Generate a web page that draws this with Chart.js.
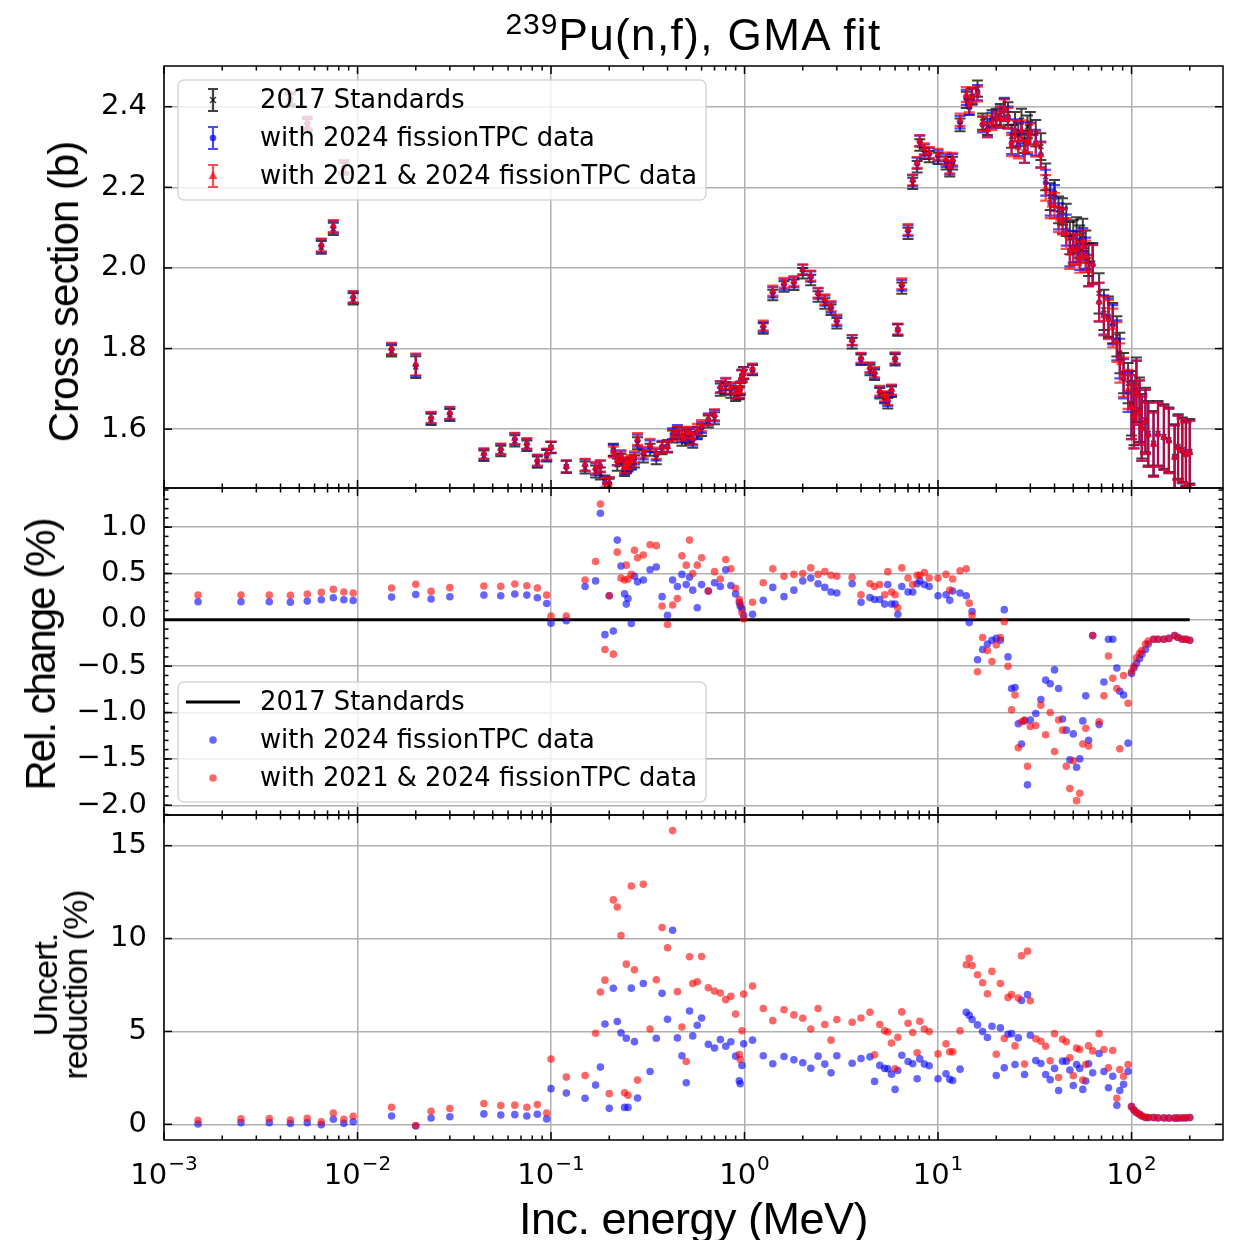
<!DOCTYPE html>
<html>
<head>
<meta charset="utf-8">
<script src="https://cdn.jsdelivr.net/npm/chart.js@4.4.1/dist/chart.umd.min.js"></script>
<style>
html,body{margin:0;padding:0;background:#fff;}
#wrap{position:relative;width:1234px;height:1240px;overflow:hidden;background:#fff;}
canvas{position:absolute;left:0;top:0;}
.lbl{position:absolute;font-family:"Liberation Sans",Arial,sans-serif;color:#000;white-space:nowrap;line-height:1;}
.rot{transform:translate(-50%,-50%) rotate(-90deg);text-align:center;}
</style>
</head>
<body>
<div id="wrap">
<canvas id="c1" width="1234" height="1240"></canvas>
<canvas id="c2" width="1234" height="1240"></canvas>
<canvas id="c3" width="1234" height="1240"></canvas>
<div class="lbl" id="title" style="left:164px;width:1059px;top:13px;text-align:center;font-size:44px;letter-spacing:1.4px;"><span style="font-size:30px;position:relative;top:-16px;letter-spacing:1px;">239</span>Pu(n,f), GMA fit</div>
<div class="lbl rot" style="left:64px;top:292px;font-size:42px;letter-spacing:-1px;">Cross section (b)</div>
<div class="lbl rot" style="left:41px;top:655px;font-size:42px;letter-spacing:-2px;">Rel. change (%)</div>
<div class="lbl rot" style="left:60px;top:985px;font-size:34px;letter-spacing:-1px;line-height:30px;">Uncert.<br>reduction (%)</div>
<div class="lbl" style="left:164px;width:1059px;top:1196px;text-align:center;font-size:45px;letter-spacing:-0.5px;">Inc. energy (MeV)</div>
</div>
<script>
// ---------------- DATA ----------------
const energies = [
  0.0015,0.0025,0.0035,0.0045,0.0055,0.0065,0.0075,0.0085,0.0095,0.015,0.02,0.024,0.03,0.045,0.055,0.065,0.075,0.085,0.095,0.1,
  0.12,0.15,0.17,0.18,0.19,0.2,0.21,0.22,0.23,0.24,0.245,0.25,0.26,0.27,0.28,0.3,0.325,0.35,0.375,0.4,
  0.425,0.45,0.475,0.5,0.52,0.54,0.57,0.6,0.65,0.7,0.75,0.8,0.85,0.9,0.94,0.95,0.97,0.99,1.1,1.25,
  1.4,1.6,1.8,2.0,2.2,2.4,2.6,2.8,3.0,3.6,4.0,4.45,4.7,5.0,5.3,5.5,5.75,6.0,6.2,6.5,7.0,7.4,7.8,8.05,8.5,9.0,10.0,
  11,11.5,11.9,13,14,14.5,15,16,17,18,19,20,21,22,23,24,25,26,27,28,29,30,32,34,36,38,40,42,44,46,48,50,
  52,54,56,58,60,63,68,72,76,80,84,87,91,96,100,103,106,110,113,118,122,130,137,147,156,167,174,183,191,200
];
const xs2017 = [
  3.2,2.9,2.65,2.415,2.354,2.051,2.097,2.246,1.923,1.794,1.754,1.624,1.635,1.534,1.546,1.571,1.559,1.518,1.534,1.555,
  1.507,1.505,1.495,1.490,1.470,1.462,1.549,1.512,1.524,1.499,1.505,1.510,1.515,1.520,1.565,1.532,1.549,1.528,1.553,1.557,
  1.582,1.590,1.574,1.582,1.578,1.569,1.590,1.598,1.619,1.627,1.698,1.702,1.693,1.685,1.689,1.700,1.731,1.739,1.747,1.850,
  1.933,1.954,1.958,1.987,1.970,1.929,1.912,1.896,1.863,1.813,1.772,1.747,1.735,1.689,1.677,1.664,1.693,1.772,1.846,1.950,2.086,2.210,2.251,2.305,2.284,2.276,2.272,
  2.260,2.243,2.260,2.355,2.417,2.400,2.425,2.445,2.363,2.350,2.371,2.375,2.379,2.392,2.383,2.326,2.359,2.330,2.367,2.313,2.350,2.359,2.334,2.301,2.226,2.177,2.185,2.144,2.140,2.119,2.074,2.078,
  2.086,2.065,2.082,2.053,2.020,2.012,1.937,1.896,1.879,1.863,1.830,1.789,1.739,1.714,1.664,1.640,1.698,1.648,1.607,1.623,1.590,1.565,1.590,1.582,1.574,1.532,1.557,1.549,1.540,1.545
];
const err2017 = [
  0.015,0.015,0.015,0.015,0.015,0.016,0.015,0.015,0.014,0.014,0.027,0.014,0.015,0.013,0.013,0.014,0.013,0.014,0.014,0.014,
  0.015,0.015,0.015,0.015,0.015,0.015,0.015,0.015,0.015,0.015,0.015,0.015,0.015,0.015,0.015,0.015,0.015,0.015,0.015,0.015,
  0.015,0.015,0.015,0.015,0.015,0.015,0.015,0.015,0.015,0.015,0.015,0.015,0.015,0.015,0.015,0.015,0.015,0.015,0.013,0.013,
  0.013,0.013,0.013,0.013,0.013,0.013,0.013,0.013,0.013,0.013,0.013,0.013,0.013,0.013,0.013,0.013,0.013,0.014,0.014,0.014,0.014,0.014,0.014,0.014,0.014,0.014,0.014,
  0.016,0.016,0.016,0.016,0.02,0.02,0.02,0.02,0.02,0.02,0.02,0.02,0.028,0.028,0.028,0.028,0.028,0.028,0.028,0.028,0.028,0.028,0.033,0.033,0.033,0.033,0.033,0.033,0.033,0.04,0.04,0.04,
  0.04,0.04,0.04,0.04,0.04,0.05,0.05,0.05,0.05,0.05,0.05,0.05,0.05,0.05,0.08,0.08,0.08,0.08,0.08,0.08,0.08,0.08,0.08,0.08,0.08,0.08,0.08,0.08,0.08,0.08
];
const relChange2024 = [
  0.195,0.195,0.195,0.191,0.202,0.217,0.238,0.217,0.209,0.245,0.274,0.224,0.249,0.267,0.260,0.278,0.267,0.238,0.177,-0.036,
  -0.01,0.36,0.42,1.15,-0.16,0.26,-0.12,0.86,0.58,0.28,0.17,0.23,-0.04,0.47,0.41,0.43,0.54,0.57,0.25,0.05,
  0.43,0.36,0.49,0.38,0.46,0.32,0.13,0.38,0.31,0.40,0.36,0.54,0.37,0.28,0.19,0.15,0.12,0.05,0.06,0.21,
  0.35,0.25,0.32,0.42,0.45,0.39,0.35,0.30,0.29,0.39,0.19,0.24,0.22,0.22,0.17,0.38,0.17,0.17,0.06,0.36,0.30,0.30,0.39,0.42,0.38,0.36,0.26,
  0.27,0.21,0.31,0.29,0.26,-0.03,0.09,-0.43,-0.32,-0.26,-0.22,-0.20,-0.22,0.11,-0.40,-0.74,-0.73,-1.12,-1.34,-1.09,-1.78,-1.08,-1.01,-0.86,-0.65,-0.69,-0.54,-0.74,-1.07,-1.19,-1.51,-1.23,
  -1.59,-1.50,-1.09,-0.82,-1.30,-0.17,-1.13,-0.67,-0.21,-0.21,-0.52,-0.77,-0.81,-1.33,-0.58,-0.52,-0.47,-0.42,-0.37,-0.32,-0.26,-0.21,-0.21,-0.21,-0.20,-0.17,-0.19,-0.21,-0.21,-0.22
];
const relChange2021_2024 = [
  0.267,0.267,0.267,0.264,0.278,0.296,0.329,0.300,0.289,0.343,0.383,0.307,0.347,0.365,0.361,0.386,0.368,0.343,0.267,0.040,
  0.04,0.43,0.63,1.25,-0.32,0.26,-0.37,0.73,0.45,0.43,0.59,0.44,0.49,0.75,0.67,0.70,0.81,0.80,0.15,-0.05,
  0.16,0.23,0.69,0.59,0.86,0.50,0.59,0.67,0.31,0.52,0.44,0.65,0.55,0.34,0.22,0.17,0.08,0.01,0.19,0.40,
  0.55,0.47,0.49,0.50,0.56,0.49,0.52,0.48,0.47,0.46,0.27,0.39,0.36,0.38,0.27,0.52,0.30,0.27,0.13,0.56,0.45,0.38,0.48,0.48,0.51,0.45,0.45,
  0.49,0.32,0.44,0.53,0.55,0.18,0.05,-0.56,-0.19,-0.33,-0.45,-0.27,-0.19,-0.02,-0.50,-0.97,-0.81,-1.38,-1.10,-1.08,-1.58,-1.15,-1.14,-0.92,-1.24,-1.00,-1.42,-1.08,-1.19,-1.58,-1.82,-1.52,
  -1.95,-1.87,-1.34,-1.17,-1.36,-0.17,-1.10,-0.82,-0.39,-0.63,-0.74,-1.39,-0.60,-0.90,-0.56,-0.50,-0.41,-0.36,-0.33,-0.26,-0.23,-0.21,-0.21,-0.21,-0.20,-0.17,-0.19,-0.21,-0.21,-0.22
];
const uncRed2024 = [
  0.02,0.09,0.09,0.04,0.09,-0.02,0.27,0.05,0.14,0.45,-0.09,0.34,0.41,0.56,0.50,0.52,0.45,0.54,0.29,1.92,
  1.68,1.40,2.11,3.08,5.40,0.86,7.32,5.53,4.92,0.91,4.63,0.91,7.33,4.45,1.41,7.58,2.84,4.63,7.05,5.65,
  10.45,4.65,3.69,2.24,6.10,4.76,5.33,5.72,4.31,4.11,4.56,4.20,4.44,3.67,2.34,2.18,3.17,4.33,4.53,3.69,
  3.26,3.65,3.47,3.31,3.02,3.67,3.24,2.77,3.69,3.29,3.54,3.63,2.31,3.17,3.01,2.99,2.70,1.88,2.90,3.72,3.38,3.26,2.45,3.52,3.24,3.15,2.45,
  2.72,2.42,2.36,2.97,6.03,5.87,5.64,5.35,4.99,4.67,5.28,2.63,5.19,3.04,4.85,4.88,3.22,4.65,6.67,2.68,6.98,4.79,3.43,3.27,2.68,2.40,3.01,1.82,3.40,3.40,2.92,2.09,
  3.22,3.01,1.88,2.33,3.26,2.77,3.81,2.84,1.97,2.59,1.02,1.82,2.16,2.84,0.95,0.77,0.63,0.54,0.45,0.36,0.36,0.36,0.34,0.34,0.33,0.33,0.33,0.34,0.34,0.36
];
const uncRed2021_2024 = [
  0.22,0.29,0.31,0.23,0.32,0.14,0.61,0.27,0.43,0.92,-0.07,0.70,0.85,1.12,1.01,1.03,0.92,1.06,0.61,3.51,
  2.54,2.63,4.90,7.12,7.76,1.65,12.08,11.70,10.16,1.70,8.62,1.56,12.83,8.32,2.38,12.92,5.13,7.78,10.59,9.50,
  15.81,7.14,5.24,3.38,9.02,7.58,7.67,9.03,7.35,7.17,7.07,6.71,6.89,5.94,3.76,3.49,5.03,7.01,7.44,6.23,
  5.58,6.17,5.89,5.71,5.13,6.23,5.37,4.53,5.64,5.49,5.72,6.03,3.74,5.37,5.04,4.97,4.38,2.99,4.69,6.05,5.44,4.94,3.85,5.55,5.13,4.99,3.79,
  4.33,3.90,3.90,5.03,8.59,8.94,8.55,8.05,7.62,7.03,8.23,3.77,7.58,4.62,6.83,6.98,4.22,6.80,9.07,3.24,9.32,6.65,4.60,4.47,4.20,3.42,4.88,2.52,4.58,4.44,3.58,2.61,
  4.10,4.03,2.38,3.22,4.22,3.95,4.88,4.03,3.04,3.97,1.40,2.95,2.59,3.22,0.95,0.77,0.63,0.54,0.45,0.38,0.37,0.37,0.35,0.35,0.34,0.34,0.34,0.35,0.35,0.37
];
const stdLineRange = [1e-4, 200];          // energy span of the 2017 Standards reference line (MeV)
const xTicks = [1e-3, 1e-2, 1e-1, 1, 10, 100];
const xTickBase = '10';
const xTickExponents = ['\u22123', '\u22122', '\u22121', '0', '1', '2'];
const yTicksXS = [1.6, 1.8, 2.0, 2.2, 2.4];
const yTicksRel = [-2.0, -1.5, -1.0, -0.5, 0.0, 0.5, 1.0];
const yTicksUnc = [0, 5, 10, 15];
const seriesNames = ['2017 Standards', 'with 2024 fissionTPC data', 'with 2021 & 2024 fissionTPC data'];

// ---------------- STYLE ----------------
const BLACK = 'rgba(0,0,0,0.75)';
const BLUE = 'rgba(0,0,255,0.7)';
const RED = 'rgba(255,0,0,0.7)';
const BLUE_DOT = 'rgba(0,0,255,0.6)';
const RED_DOT = 'rgba(255,0,0,0.6)';
const AREA_L = 164, AREA_R = 1223, H = 1240;
const TICK_FONT = {family: 'DejaVu Sans', size: 29};

const pts = (ys) => energies.map((e, i) => ({x: e, y: ys[i]}));
const xsWith = (rel) => xs2017.map((v, i) => v * (1 + rel[i] / 100));
const errWith = (unc) => err2017.map((v, i) => v * (1 - unc[i] / 100));

const errorBarPlugin = {
  id: 'errbars',
  beforeDatasetDraw(chart, args) {
    const ds = chart.data.datasets[args.index];
    if (!ds.errors) return;
    const {ctx, chartArea: a, scales: {x, y}} = chart;
    ctx.save();
    ctx.beginPath(); ctx.rect(a.left, a.top, a.right - a.left, a.bottom - a.top); ctx.clip();
    ctx.strokeStyle = ds.borderColor; ctx.lineWidth = ds.errWidth || 2.2;
    ds.data.forEach((p, i) => {
      const px = x.getPixelForValue(p.x);
      const y1 = y.getPixelForValue(p.y - ds.errors[i]);
      const y2 = y.getPixelForValue(p.y + ds.errors[i]);
      ctx.beginPath();
      ctx.moveTo(px, y1); ctx.lineTo(px, y2);
      ctx.moveTo(px - 5.5, y1); ctx.lineTo(px + 5.5, y1);
      ctx.moveTo(px - 5.5, y2); ctx.lineTo(px + 5.5, y2);
      ctx.stroke();
    });
    ctx.restore();
  }
};

function drawMarker(ctx, style, x, y, color) {
  ctx.save();
  ctx.fillStyle = color; ctx.strokeStyle = color; ctx.lineWidth = 1.5;
  ctx.beginPath();
  if (style === 'crossRot') {
    ctx.moveTo(x - 3, y - 3); ctx.lineTo(x + 3, y + 3);
    ctx.moveTo(x - 3, y + 3); ctx.lineTo(x + 3, y - 3); ctx.stroke();
  } else if (style === 'triangle') {
    ctx.moveTo(x, y - 5); ctx.lineTo(x + 4.5, y + 3); ctx.lineTo(x - 4.5, y + 3); ctx.closePath(); ctx.fill();
  } else {
    ctx.arc(x, y, style === 'dot' ? 3.8 : 3.3, 0, Math.PI * 2); ctx.fill();
  }
  ctx.restore();
}

const decoPlugin = {
  id: 'deco',
  afterDatasetsDraw(chart, args, opts) {
    const {ctx, chartArea: a, scales: {x, y}} = chart;
    ctx.save();
    ctx.strokeStyle = '#000'; ctx.lineWidth = 1.5;
    const seg = (x1, y1, x2, y2) => { ctx.beginPath(); ctx.moveTo(x1, y1); ctx.lineTo(x2, y2); ctx.stroke(); };
    for (let d = -3; d <= 2; d++) {
      for (let m = 1; m <= 9; m++) {
        const v = m * Math.pow(10, d);
        if (v < x.min || v > x.max) continue;
        const px = x.getPixelForValue(v), len = m === 1 ? 8 : 4.5;
        seg(px, a.top, px, a.top + len);
        seg(px, a.bottom, px, a.bottom - len);
      }
    }
    opts.yTicks.forEach(v => {
      const py = y.getPixelForValue(v);
      seg(a.left, py, a.left + 8, py); seg(a.right, py, a.right - 8, py);
    });
    if (opts.yMinorStep) {
      for (let v = Math.ceil(y.min / opts.yMinorStep) * opts.yMinorStep; v <= y.max; v += opts.yMinorStep) {
        const py = y.getPixelForValue(v);
        seg(a.left, py, a.left + 4.5, py); seg(a.right, py, a.right - 4.5, py);
      }
    }
    ctx.strokeRect(a.left, a.top, a.right - a.left, a.bottom - a.top);
    // x tick labels with superscript exponents (bottom panel only)
    if (opts.xLabels) {
      ctx.fillStyle = '#000'; ctx.textBaseline = 'alphabetic'; ctx.textAlign = 'left';
      xTicks.forEach((v, i) => {
        const px = x.getPixelForValue(v);
        ctx.font = '29px "DejaVu Sans"';
        const wb = ctx.measureText(xTickBase).width;
        ctx.font = '20px "DejaVu Sans"';
        const we = ctx.measureText(xTickExponents[i]).width;
        const x0 = px - (wb + we + 1) / 2;
        ctx.font = '29px "DejaVu Sans"';
        ctx.fillText(xTickBase, x0, a.bottom + 44);
        ctx.font = '20px "DejaVu Sans"';
        ctx.fillText(xTickExponents[i], x0 + wb + 1, a.bottom + 30);
      });
    }
    ctx.restore();
  },
  afterDraw(chart, args, opts) {
    const L = opts.legend;
    if (!L) return;
    const {ctx, chartArea: a} = chart;
    const bx = a.left + 14, bw = 528, bh = 120;
    const by = L.fromBottom ? a.bottom - L.offset - bh : a.top + L.offset;
    ctx.save();
    ctx.beginPath();
    ctx.roundRect(bx, by, bw, bh, 6);
    ctx.fillStyle = 'rgba(255,255,255,0.8)'; ctx.fill();
    ctx.strokeStyle = 'rgba(204,204,204,0.8)'; ctx.lineWidth = 1.5; ctx.stroke();
    ctx.font = '25.8px "DejaVu Sans"'; ctx.textBaseline = 'middle'; ctx.fillStyle = '#000';
    L.items.forEach((it, i) => {
      const cy = by + 20 + i * 38, ix = bx + 35;
      if (it.kind === 'err') {
        ctx.strokeStyle = it.color; ctx.lineWidth = 2.2;
        ctx.beginPath();
        ctx.moveTo(ix, cy - 11); ctx.lineTo(ix, cy + 11);
        ctx.moveTo(ix - 5, cy - 11); ctx.lineTo(ix + 5, cy - 11);
        ctx.moveTo(ix - 5, cy + 11); ctx.lineTo(ix + 5, cy + 11);
        ctx.stroke();
        drawMarker(ctx, it.marker, ix, cy, it.color);
      } else if (it.kind === 'line') {
        ctx.strokeStyle = it.color; ctx.lineWidth = 3;
        ctx.beginPath(); ctx.moveTo(bx + 8, cy); ctx.lineTo(bx + 62, cy); ctx.stroke();
      } else {
        drawMarker(ctx, 'dot', ix, cy, it.color);
      }
      ctx.fillStyle = '#000';
      ctx.fillText(it.text, bx + 82, cy + 1);
    });
    ctx.restore();
  }
};

function makePanel(id, top, bottom, yMin, yMax, yTicks, yMinorStep, yFmt, datasets, legend, showX) {
  return new Chart(document.getElementById(id), {
    type: 'scatter',
    data: {datasets},
    options: {
      responsive: false, animation: false, devicePixelRatio: 1,
      layout: {padding: {top: top, bottom: showX ? 0 : H - bottom, left: 0, right: 1234 - AREA_R}},
      plugins: {
        legend: {display: false}, tooltip: {enabled: false}, title: {display: false},
        deco: {yTicks, yMinorStep, legend, xLabels: showX}
      },
      scales: {
        x: {
          type: 'logarithmic', min: 1e-3, max: 297,
          afterBuildTicks: s => { s.ticks = xTicks.map(v => ({value: v})); },
          afterFit: s => { s.height = showX ? H - bottom : 0; },
          grid: {color: '#b0b0b0', lineWidth: 1.5, drawTicks: false},
          border: {display: false},
          ticks: {display: false}
        },
        y: {
          min: yMin, max: yMax,
          afterBuildTicks: s => { s.ticks = yTicks.map(v => ({value: v})); },
          afterFit: s => { s.width = AREA_L; },
          grid: {color: '#b0b0b0', lineWidth: 1.5, drawTicks: false},
          border: {display: false},
          ticks: {padding: 17, font: TICK_FONT, color: '#000', autoSkip: false, callback: v => yFmt(v)}
        }
      }
    },
    plugins: [errorBarPlugin, decoPlugin]
  });
}

const fmt1 = v => (v < 0 ? '\u2212' : '') + Math.abs(v).toFixed(1);
const fmt0 = v => String(v);

// Panel 1: cross sections with uncertainties (lower "order" is drawn on top)
makePanel('c1', 66, 488, 1.454, 2.501, yTicksXS, 0, fmt1, [
  {label: seriesNames[0], order: 3, data: pts(xs2017), errors: err2017, errWidth: 2, pointStyle: 'crossRot', pointRadius: 3.5,
   borderColor: BLACK, backgroundColor: BLACK, borderWidth: 1.5},
  {label: seriesNames[1], order: 2, data: pts(xsWith(relChange2024)), errors: errWith(uncRed2024), pointStyle: 'circle', pointRadius: 3,
   borderColor: BLUE, backgroundColor: BLUE, borderWidth: 0},
  {label: seriesNames[2], order: 1, data: pts(xsWith(relChange2021_2024)), errors: errWith(uncRed2021_2024), errWidth: 2.2, pointStyle: 'triangle', pointRadius: 4.5,
   borderColor: RED, backgroundColor: RED, borderWidth: 0}
], {fromBottom: false, offset: 14, items: [
  {kind: 'err', color: BLACK, marker: 'crossRot', text: seriesNames[0]},
  {kind: 'err', color: BLUE, marker: 'circle', text: seriesNames[1]},
  {kind: 'err', color: RED, marker: 'triangle', text: seriesNames[2]}
]}, false);

// Panel 2: relative change
makePanel('c2', 488, 815, -2.105, 1.422, yTicksRel, 0.1, fmt1, [
  {label: seriesNames[0], order: 3, type: 'line', data: stdLineRange.map(e => ({x: e, y: 0})), borderColor: '#000', borderWidth: 3,
   pointRadius: 0, showLine: true, fill: false},
  {label: seriesNames[1], order: 2, data: pts(relChange2024), pointStyle: 'circle', pointRadius: 3.8,
   borderColor: BLUE_DOT, backgroundColor: BLUE_DOT, borderWidth: 0},
  {label: seriesNames[2], order: 1, data: pts(relChange2021_2024), pointStyle: 'circle', pointRadius: 3.8,
   borderColor: RED_DOT, backgroundColor: RED_DOT, borderWidth: 0}
], {fromBottom: true, offset: 13, items: [
  {kind: 'line', color: '#000', text: seriesNames[0]},
  {kind: 'dot', color: BLUE_DOT, text: seriesNames[1]},
  {kind: 'dot', color: RED_DOT, text: seriesNames[2]}
]}, false);

// Panel 3: uncertainty reduction
makePanel('c3', 815, 1140, -0.845, 16.65, yTicksUnc, 0, fmt0, [
  {label: seriesNames[1], order: 2, data: pts(uncRed2024), pointStyle: 'circle', pointRadius: 3.8,
   borderColor: BLUE_DOT, backgroundColor: BLUE_DOT, borderWidth: 0},
  {label: seriesNames[2], order: 1, data: pts(uncRed2021_2024), pointStyle: 'circle', pointRadius: 3.8,
   borderColor: RED_DOT, backgroundColor: RED_DOT, borderWidth: 0}
], null, true);
</script>
</body>
</html>
